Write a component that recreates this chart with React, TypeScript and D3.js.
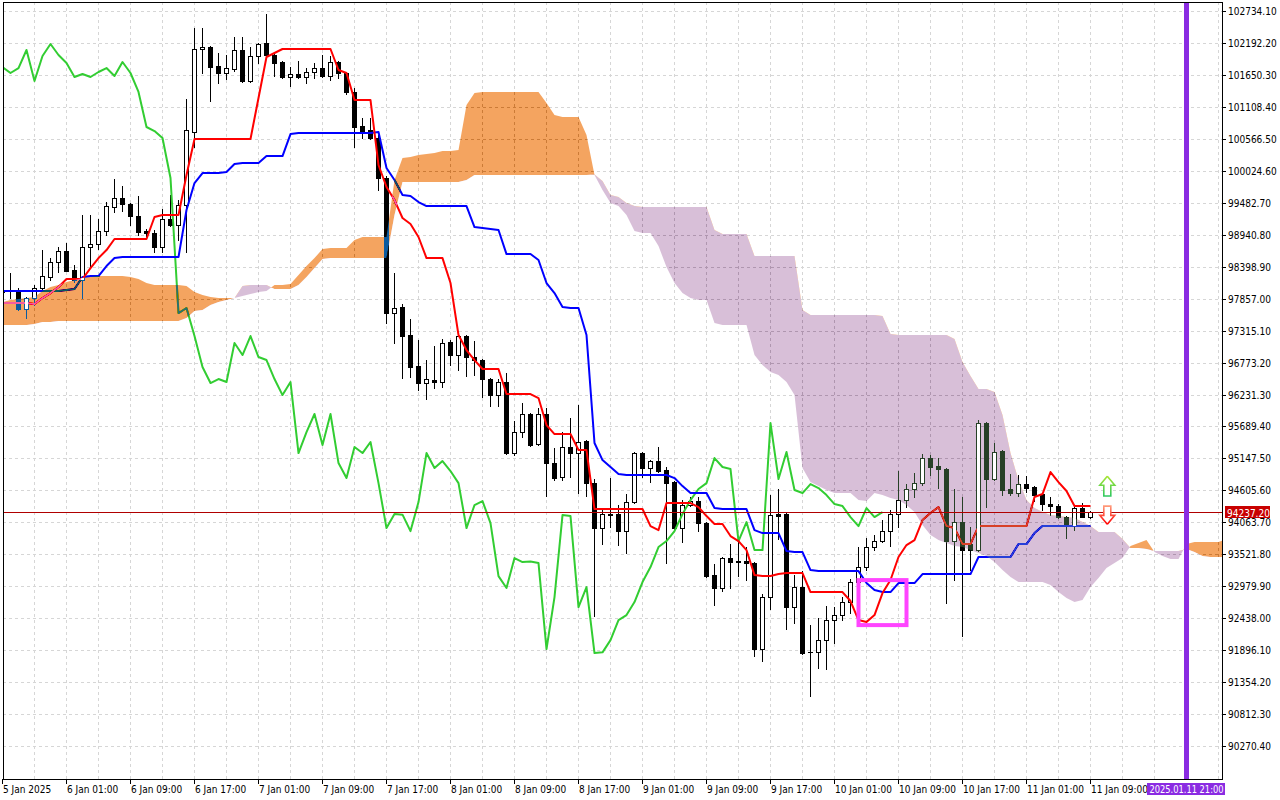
import React, { useEffect, useRef } from "react";
import * as d3 from "d3";

// hourly bars, index 0 = 5 Jan 17:00
const timeLabels = [
  "5 Jan 2025", "6 Jan 01:00", "6 Jan 09:00", "6 Jan 17:00", "7 Jan 01:00", "7 Jan 09:00",
  "7 Jan 17:00", "8 Jan 01:00", "8 Jan 09:00", "8 Jan 17:00", "9 Jan 01:00", "9 Jan 09:00",
  "9 Jan 17:00", "10 Jan 01:00", "10 Jan 09:00", "10 Jan 17:00", "11 Jan 01:00", "11 Jan 09:00",
];
const LABEL_EVERY = 8;

const priceTicks = [
  102734.1, 102192.2, 101650.3, 101108.4, 100566.5, 100024.6, 99482.7, 98940.8, 98398.9, 97857.0,
  97315.1, 96773.2, 96231.3, 95689.4, 95147.5, 94605.6, 94063.7, 93521.8, 92979.9, 92438.0,
  91896.1, 91354.2, 90812.3, 90270.4,
];

const opens = [
  97970, 97986, 97969, 97681, 97867, 98037, 98223, 98478, 98664, 98342,
  98173, 98732, 98783, 99003, 99410, 99563, 99461, 99258, 99003, 98969,
  98732, 99207, 99105, 99444, 100682, 102089, 102123, 101801, 101683, 101750,
  102073, 101547, 101971, 102191, 101988, 101869, 101615, 101666, 101615, 101700,
  101767, 101632, 101869, 101683, 101361, 100784, 100716, 100581, 99902, 97613,
  97715, 97240, 96714, 96426, 96477, 96443, 97121, 96901, 97223, 96867,
  96816, 96494, 96222, 96443, 95239, 95595, 95901, 95391, 95901, 95069,
  94832, 95341, 95239, 95443, 94730, 93967, 94205, 94205, 93916, 94408,
  95239, 94985, 95103, 94951, 94747, 93967, 94357, 94425, 94052, 93170,
  92950, 93459, 93408, 93408, 93374, 91916, 92797, 94205, 94205, 92628,
  92967, 91865, 91865, 92068, 92407, 92492, 92713, 93052, 93306, 93645,
  93747, 93916, 94205, 94442, 94629, 94730, 95154, 95019, 94968, 93747,
  94069, 93696, 93594, 95748, 94798, 95273, 94629, 94561, 94713, 94662,
  94544, 94374, 94340, 94154, 94001, 94306, 94154,
];
const highs = [
  98090, 98291, 98037, 97884, 98088, 98681, 98545, 98732, 98800, 98427,
  99275, 99275, 99207, 99495, 99885, 99766, 99478, 99597, 99037, 99020,
  99377, 99614, 99529, 101241, 102445, 102445, 102140, 102022, 101988, 102293,
  102293, 102123, 102191, 102683, 102022, 101880, 101784, 101886, 101767, 101852,
  101988, 101971, 101886, 101700, 101429, 100920, 100920, 100632, 99936, 98291,
  97766, 97511, 97155, 96816, 97054, 97172, 97155, 97240, 97240, 97138,
  96833, 96511, 96494, 96596, 95782, 96087, 95918, 96002, 96002, 95324,
  95595, 95833, 96053, 95460, 94798, 94306, 94815, 94357, 94544, 95256,
  95256, 95120, 95341, 95002, 94764, 94442, 94493, 94493, 94069, 93357,
  93476, 93696, 93815, 93645, 93391, 92848, 94527, 94629, 94222, 93170,
  93238, 92322, 92441, 92645, 92628, 92797, 93103, 93645, 93798, 93849,
  94103, 94273, 94934, 94713, 94900, 95222, 95205, 95154, 94985, 94629,
  94493, 93984, 95799, 95765, 95409, 95290, 94883, 94866, 94849, 94679,
  94561, 94493, 94374, 94171, 94323, 94391, 94256,
];
const lows = [
  97830, 97867, 97664, 97528, 97749, 98020, 98173, 98308, 98325, 98139,
  97867, 98393, 98698, 98935, 99326, 99343, 99105, 98935, 98918, 98647,
  98647, 99088, 98851, 98647, 100428, 101683, 101208, 101513, 101581, 101717,
  101530, 101530, 101852, 101971, 101632, 101598, 101462, 101598, 101513, 101598,
  101615, 101564, 101598, 101327, 100428, 100581, 100564, 99699, 97443, 97104,
  96511, 96528, 96307, 96154, 96341, 96358, 96731, 96647, 96545, 96562,
  96188, 96036, 96036, 95222, 95205, 95510, 95357, 95374, 94510, 94781,
  94781, 94832, 94561, 94510, 92475, 93696, 93984, 93679, 93543, 94391,
  94832, 94747, 94917, 93374, 93933, 93730, 94340, 93916, 93136, 92662,
  92899, 92950, 93153, 93086, 91797, 91712, 92594, 93781, 92255, 92357,
  91831, 91119, 91593, 91576, 92017, 92407, 92526, 93035, 93255, 93594,
  93730, 93662, 93984, 94323, 94493, 94696, 94866, 94645, 92696, 93086,
  92136, 93255, 93577, 94323, 94781, 94527, 94527, 94510, 94578, 94425,
  94273, 94188, 94137, 93798, 93933, 94154, 94137,
];
const closes = [
  98003, 98003, 97681, 97867, 98037, 98240, 98478, 98664, 98325, 98173,
  98732, 98783, 99003, 99427, 99563, 99461, 99258, 98986, 98969, 98732,
  99207, 99105, 99444, 100716, 102089, 102123, 101784, 101683, 101767, 102073,
  101547, 101971, 102174, 101988, 101852, 101615, 101666, 101615, 101700, 101767,
  101632, 101869, 101683, 101361, 100767, 100699, 100581, 99902, 97613, 97698,
  97223, 96697, 96426, 96494, 96443, 97104, 96901, 97223, 96867, 96816,
  96494, 96222, 96443, 95239, 95595, 95901, 95374, 95901, 95069, 94815,
  95341, 95239, 95426, 94730, 93967, 94205, 94195, 93916, 94408, 95239,
  94985, 95103, 94934, 94730, 93967, 94357, 94425, 94052, 93153, 92950,
  93459, 93391, 93400, 93374, 91916, 92797, 94188, 94171, 92628, 92967,
  91848, 91860, 92068, 92407, 92492, 92713, 93052, 93306, 93645, 93747,
  93916, 94205, 94442, 94629, 94730, 95154, 95002, 94968, 93747, 94069,
  93594, 93594, 95748, 94798, 95256, 94612, 94561, 94713, 94645, 94527,
  94374, 94340, 94154, 94001, 94306, 94154, 94237.2,
];

const tenkan = [
  97783, 97783, 97783, 97783, 97766, 97867, 97952, 98054, 98190, 98190,
  98190, 98376, 98545, 98681, 98868, 98868, 98868, 98868, 98868, 99241,
  99275, 99275, 99275, 99953, 100564, 100564, 100564, 100564, 100564, 100564,
  100564, 100564, 101259, 101954, 102022, 102090, 102090, 102090, 102090, 102090,
  102090, 102090, 101734, 101683, 101225, 101225, 101225, 100123, 99750, 99529,
  99224, 99122, 98902, 98545, 98545, 98545, 98122, 97240, 96986, 96816,
  96664, 96664, 96664, 96240, 96240, 96240, 96240, 96171, 95714, 95561,
  95561, 95561, 95290, 95290, 94290, 94290, 94290, 94290, 94290, 94290,
  94290, 94001, 93933, 94391, 94391, 94391, 94391, 94323, 94171, 94035,
  94035, 93832, 93747, 93594, 93170, 93153, 93153, 93187, 93204, 93204,
  93204, 92882, 92882, 92882, 92882, 92882, 92730, 92407, 92373, 92492,
  92865, 93086, 93476, 93679, 93764, 94103, 94222, 94323, 94001, 93967,
  93696, 93696, 94001, 94001, 94001, 94001, 94001, 94001, 94001, 94493,
  94544, 94917, 94747, 94595, 94340, 94340, 94340,
];
const kijun = [
  97986, 97986, 97986, 97986, 97986, 97986, 97986, 97986, 98003, 98020,
  98223, 98240, 98240, 98410, 98545, 98562, 98562, 98562, 98562, 98562,
  98562, 98562, 98562, 99360, 99817, 99987, 99987, 99987, 100004, 100140,
  100157, 100157, 100157, 100275, 100275, 100275, 100648, 100665, 100665, 100665,
  100665, 100665, 100665, 100665, 100665, 100665, 100665, 100682, 100072, 99868,
  99614, 99597, 99495, 99427, 99427, 99427, 99427, 99427, 99427, 99071,
  99054, 99037, 99020, 98613, 98613, 98613, 98613, 98512, 98122, 97952,
  97715, 97698, 97698, 97240, 95409, 95120, 95002, 94883, 94866, 94866,
  94866, 94866, 94866, 94866, 94815, 94679, 94561, 94561, 94561, 94306,
  94290, 94290, 94290, 94290, 93933, 93882, 93882, 93882, 93577, 93560,
  93560, 93255, 93238, 93238, 93238, 93238, 93238, 93238, 93035, 92916,
  92882, 92882, 93035, 93035, 93035, 93187, 93187, 93187, 93187, 93187,
  93187, 93187, 93476, 93476, 93476, 93476, 93476, 93696, 93696, 93882,
  94001, 94001, 94001, 94001, 94001, 94001, 94001,
];
// senkou spans, already shifted 26 bars ahead
const spanA = [
  97800, 97834, 97850, 97867, 97884, 97986, 98054, 98088, 98139, 98173,
  98207, 98223, 98240, 98240, 98240, 98240, 98223, 98190, 98122, 98088,
  98088, 98088, 98088, 98071, 97969, 97918, 97884, 97867, 97867, 97870,
  97901, 97935, 97969, 97986, 98088, 98088, 98105, 98257, 98410, 98545,
  98698, 98715, 98715, 98715, 98851, 98902, 98902, 98902, 98902, 99868,
  100241, 100258, 100292, 100309, 100326, 100360, 100360, 100377, 101141, 101343,
  101360, 101360, 101360, 101360, 101360, 101360, 101360, 101360, 101174, 100971,
  100937, 100937, 100937, 100632, 99953, 99699, 99478, 99427, 99275, 99003,
  98969, 98969, 98749, 98393, 98122, 97952, 97867, 97834, 97834, 97443,
  97409, 97409, 97409, 97409, 96901, 96731, 96613, 96562, 96443, 96222,
  94985, 94747, 94679, 94612, 94561, 94561, 94561, 94442, 94425, 94561,
  94527, 94476, 94442, 94357, 94239, 94018, 93848, 93764, 93713, 93662,
  93645, 93594, 93543, 93492, 93391, 93255, 93136, 93052, 93052, 93052,
  93052, 93001, 92882, 92780, 92713, 92746, 92967, 93119, 93289, 93374,
  93459, 93662, 93713, 93764, 93560, 93492, 93442, 93442, 93696, 93730,
  93730, 93730, 93730, 93781,
];
const spanB = [
  97409, 97409, 97409, 97409, 97426, 97460, 97460, 97477, 97477, 97477,
  97477, 97477, 97477, 97477, 97477, 97477, 97477, 97477, 97477, 97477,
  97477, 97477, 97477, 97528, 97647, 97664, 97749, 97800, 97834, 97867,
  98071, 98088, 98088, 98088, 98020, 98020, 98020, 98088, 98223, 98376,
  98528, 98545, 98545, 98545, 98545, 98545, 98545, 98545, 98545, 99275,
  99834, 99834, 99834, 99834, 99834, 99834, 99834, 99834, 99868, 99953,
  99953, 99953, 99953, 99953, 99953, 99953, 99953, 99953, 99953, 99953,
  99953, 99953, 99953, 99953, 99960, 99851, 99614, 99580, 99478, 99427,
  99410, 99410, 99410, 99410, 99410, 99410, 99410, 99410, 99410, 99020,
  98952, 98952, 98952, 98952, 98579, 98579, 98579, 98579, 98579, 98579,
  97664, 97579, 97579, 97579, 97579, 97579, 97579, 97579, 97579, 97579,
  97562, 97257, 97240, 97240, 97240, 97240, 97240, 97240, 97240, 97172,
  96782, 96545, 96324, 96324, 96273, 95884, 95239, 94781, 94442, 94306,
  94239, 94188, 94171, 94154, 94137, 94069, 94001, 93899, 93899, 93899,
  93781, 93628, 93628, 93611, 93577, 93577, 93577, 93577, 93611, 93560,
  93492, 93476, 93476, 93476,
];
const CHIKOU_SHIFT = 26;

const lastPrice = 94237.2;
const futureIndex = 148;
const futureLabel = "2025.01.11 21:00";
const boxFrom = 107;
const boxTo = 113;
const boxHigh = 93085;
const boxLow = 92322;
const arrowIndex = 138.1;
const upArrow = [94845, 94510]; // tip, base
const downArrow = [94030, 94340]; // tip, base

const W = 1280;
const H = 800;
const plot = { left: 3, top: 2, right: 1222, bottom: 779 };
const FONT = "'DejaVu Sans Condensed', 'Liberation Sans', Arial, sans-serif";

const IchimokuChart: React.FC = () => {
  const ref = useRef<SVGSVGElement | null>(null);

  useEffect(() => {
    document.body.style.margin = "0";
    const svg = d3.select(ref.current);
    svg.selectAll("*").remove();
    svg.attr("width", W).attr("height", H).attr("viewBox", `0 0 ${W} ${H}`);

    const x = d3.scaleLinear().domain([0, 1]).range([2.5, 10.5]);
    const y = d3.scaleLinear().domain([90270.4, 102734.1]).range([746.1, 11]);
    const crisp = (v: number) => Math.round(v) + 0.5;

    svg.append("rect").attr("width", W).attr("height", H).attr("fill", "#fff");

    const defs = svg.append("defs");
    defs
      .append("clipPath")
      .attr("id", "plotClip")
      .append("rect")
      .attr("x", plot.left + 1)
      .attr("y", plot.top + 1)
      .attr("width", plot.right - plot.left - 1)
      .attr("height", plot.bottom - plot.top - 1);

    const upGrad = defs
      .append("linearGradient")
      .attr("id", "upGrad")
      .attr("x1", 0)
      .attr("y1", 0)
      .attr("x2", 0)
      .attr("y2", 1);
    upGrad.append("stop").attr("offset", "0%").attr("stop-color", "#a8e632");
    upGrad.append("stop").attr("offset", "100%").attr("stop-color", "#2fc860");
    const dnGrad = defs
      .append("linearGradient")
      .attr("id", "dnGrad")
      .attr("x1", 0)
      .attr("y1", 0)
      .attr("x2", 0)
      .attr("y2", 1);
    dnGrad.append("stop").attr("offset", "0%").attr("stop-color", "#ff9a7a");
    dnGrad.append("stop").attr("offset", "100%").attr("stop-color", "#ff0000");

    const cloudIdx = d3.range(spanA.length);
    const cloudArea = d3
      .area<number>()
      .x((i) => x(i))
      .y0((i) => y(spanB[i]))
      .y1((i) => y(spanA[i]));
    const aboveB = d3
      .area<number>()
      .x((i) => x(i))
      .y0((i) => y(spanB[i]))
      .y1(0);
    const belowB = d3
      .area<number>()
      .x((i) => x(i))
      .y0((i) => y(spanB[i]))
      .y1(H);
    defs.append("clipPath").attr("id", "aboveB").append("path").attr("d", aboveB(cloudIdx)!);
    defs.append("clipPath").attr("id", "belowB").append("path").attr("d", belowB(cloudIdx)!);
    defs.append("clipPath").attr("id", "cloudClip").append("path").attr("d", cloudArea(cloudIdx)!);

    const g = svg.append("g").attr("clip-path", "url(#plotClip)");
    g.append("rect").attr("width", W).attr("height", H).attr("fill", "#fff");

    // grid
    const grid = g.append("g").attr("stroke", "#d6d6d6").attr("stroke-dasharray", "3,3");
    grid
      .selectAll("line.h")
      .data(priceTicks)
      .join("line")
      .attr("x1", plot.left)
      .attr("x2", plot.right)
      .attr("y1", (d) => crisp(y(d)))
      .attr("y2", (d) => crisp(y(d)));
    grid
      .selectAll("line.v")
      .data(d3.range(0, 154, 4))
      .join("line")
      .attr("x1", (d) => x(d))
      .attr("x2", (d) => x(d))
      .attr("y1", plot.top)
      .attr("y2", plot.bottom);

    // candles
    const candles = d3.range(opens.length).map((i) => ({
      i,
      o: opens[i],
      h: highs[i],
      l: lows[i],
      c: closes[i],
    }));
    const body = (d: { o: number; c: number }) => {
      const top = Math.round(y(Math.max(d.o, d.c)));
      const bot = Math.round(y(Math.min(d.o, d.c)));
      return { top, bot };
    };
    const cg = g.append("g");
    cg.selectAll("line")
      .data(candles)
      .join("line")
      .attr("x1", (d) => x(d.i))
      .attr("x2", (d) => x(d.i))
      .attr("y1", (d) => Math.round(y(d.h)))
      .attr("y2", (d) => Math.round(y(d.l)) + 1)
      .attr("stroke", "#000");
    const bulls = candles.filter((d) => d.c >= d.o && body(d).bot - body(d).top >= 2);
    const bears = candles.filter((d) => !(d.c >= d.o && body(d).bot - body(d).top >= 2));
    cg.selectAll("rect.bear")
      .data(bears)
      .join("rect")
      .attr("x", (d) => x(d.i) - 2.5)
      .attr("y", (d) => body(d).top)
      .attr("width", 5)
      .attr("height", (d) => Math.max(1, body(d).bot - body(d).top + 1))
      .attr("fill", "#000");
    cg.selectAll("rect.bull")
      .data(bulls)
      .join("rect")
      .attr("x", (d) => x(d.i) - 2)
      .attr("y", (d) => body(d).top + 0.5)
      .attr("width", 4)
      .attr("height", (d) => body(d).bot - body(d).top)
      .attr("fill", "#fff")
      .attr("stroke", "#000");

    // ichimoku lines
    const lineOf = (arr: number[], offset = 0) =>
      d3
        .line<number>()
        .x((k) => x(k))
        .y((k) => y(arr[k + offset]))(d3.range(arr.length - offset));
    g.append("path")
      .attr("d", lineOf(closes, CHIKOU_SHIFT)!)
      .attr("fill", "none")
      .attr("stroke", "#32cd32")
      .attr("stroke-width", 2)
      .attr("stroke-linejoin", "round");
    g.append("path")
      .attr("d", lineOf(kijun)!)
      .attr("fill", "none")
      .attr("stroke", "#0000ff")
      .attr("stroke-width", 2)
      .attr("stroke-linejoin", "round");
    g.append("path")
      .attr("d", lineOf(tenkan)!)
      .attr("fill", "none")
      .attr("stroke", "#ff0000")
      .attr("stroke-width", 2)
      .attr("stroke-linejoin", "round");

    // cloud, painted the way the terminal does it (inverting what lies under)
    g.append("path")
      .attr("d", cloudArea(cloudIdx)!)
      .attr("clip-path", "url(#aboveB)")
      .attr("fill", "#0b5b9f")
      .style("mix-blend-mode", "difference");
    g.append("path")
      .attr("d", cloudArea(cloudIdx)!)
      .attr("clip-path", "url(#belowB)")
      .attr("fill", "#274027")
      .style("mix-blend-mode", "difference");

    // bull bodies stay white inside the cloud
    g.append("g")
      .attr("clip-path", "url(#cloudClip)")
      .selectAll("rect")
      .data(bulls.filter((d) => body(d).bot - body(d).top > 1))
      .join("rect")
      .attr("x", (d) => x(d.i) - 1.5)
      .attr("y", (d) => body(d).top + 1)
      .attr("width", 3)
      .attr("height", (d) => body(d).bot - body(d).top - 1)
      .attr("fill", "#fff");

    // last price line
    g.append("line")
      .attr("x1", plot.left)
      .attr("x2", plot.right)
      .attr("y1", crisp(y(lastPrice)))
      .attr("y2", crisp(y(lastPrice)))
      .attr("stroke", "#b00000")
      .attr("stroke-width", 1);

    // highlighted cross
    g.append("rect")
      .attr("x", x(boxFrom))
      .attr("y", y(boxHigh))
      .attr("width", x(boxTo) - x(boxFrom))
      .attr("height", y(boxLow) - y(boxHigh))
      .attr("fill", "none")
      .attr("stroke", "#ff44ff")
      .attr("stroke-width", 4);

    // signal arrows
    const ax = x(arrowIndex);
    const arrowPath = (tipY: number, baseY: number) => {
      const dir = baseY > tipY ? 1 : -1;
      const headY = tipY + dir * 9;
      return d3.line()([
        [ax, tipY],
        [ax + 7.5, headY],
        [ax + 3.5, headY],
        [ax + 3.5, baseY],
        [ax - 3.5, baseY],
        [ax - 3.5, headY],
        [ax - 7.5, headY],
        [ax, tipY],
      ])!;
    };
    g.append("path")
      .attr("d", arrowPath(y(upArrow[0]), y(upArrow[1])))
      .attr("fill", "#ffffff")
      .attr("stroke", "url(#upGrad)")
      .attr("stroke-width", 1.6)
      .attr("stroke-linejoin", "miter");
    g.append("path")
      .attr("d", arrowPath(y(downArrow[0]), y(downArrow[1])))
      .attr("fill", "#ffffff")
      .attr("stroke", "url(#dnGrad)")
      .attr("stroke-width", 1.6)
      .attr("stroke-linejoin", "miter");

    // future time marker
    g.append("line")
      .attr("x1", x(futureIndex))
      .attr("x2", x(futureIndex))
      .attr("y1", plot.top)
      .attr("y2", plot.bottom)
      .attr("stroke", "#8a2be2")
      .attr("stroke-width", 5);

    // frame
    svg
      .append("rect")
      .attr("x", plot.left + 0.5)
      .attr("y", plot.top + 0.5)
      .attr("width", plot.right - plot.left)
      .attr("height", plot.bottom - plot.top)
      .attr("fill", "none")
      .attr("stroke", "#000");

    // price axis
    const pa = svg.append("g").style("font-family", FONT).style("font-size", "10px");
    pa.selectAll("line")
      .data(priceTicks)
      .join("line")
      .attr("x1", plot.right)
      .attr("x2", plot.right + 4)
      .attr("y1", (d) => crisp(y(d)))
      .attr("y2", (d) => crisp(y(d)))
      .attr("stroke", "#000");
    pa.selectAll("text")
      .data(priceTicks)
      .join("text")
      .attr("x", plot.right + 6)
      .attr("y", (d) => y(d) + 4)
      .attr("fill", "#000")
      .text((d) => d.toFixed(2));

    const py = crisp(y(lastPrice));
    pa.append("rect")
      .attr("x", plot.right + 3)
      .attr("y", py - 6.5)
      .attr("width", 45)
      .attr("height", 12)
      .attr("fill", "#c80000");
    pa.append("text")
      .attr("x", plot.right + 5)
      .attr("y", py + 4)
      .attr("fill", "#fff")
      .text(lastPrice.toFixed(2));

    // time axis
    const ta = svg.append("g").style("font-family", FONT).style("font-size", "10px");
    const labelIdx = timeLabels.map((_, k) => k * LABEL_EVERY);
    ta.selectAll("line")
      .data(labelIdx)
      .join("line")
      .attr("x1", (d) => x(d))
      .attr("x2", (d) => x(d))
      .attr("y1", plot.bottom)
      .attr("y2", plot.bottom + 5)
      .attr("stroke", "#000");
    ta.selectAll("text")
      .data(labelIdx)
      .join("text")
      .attr("x", (d) => x(d) + 0.5)
      .attr("y", 793)
      .attr("fill", "#000")
      .text((_, k) => timeLabels[k]);

    ta.append("rect")
      .attr("x", x(futureIndex) - 39.5)
      .attr("y", 783)
      .attr("width", 78)
      .attr("height", 12)
      .attr("fill", "#8a2be2");
    ta.append("text")
      .attr("x", x(futureIndex) - 37)
      .attr("y", 793)
      .attr("textLength", 74)
      .attr("lengthAdjust", "spacingAndGlyphs")
      .attr("fill", "#fff")
      .text(futureLabel);
  }, []);

  return <svg ref={ref} style={{ display: "block" }} />;
};

export default function App() {
  return <IchimokuChart />;
}
